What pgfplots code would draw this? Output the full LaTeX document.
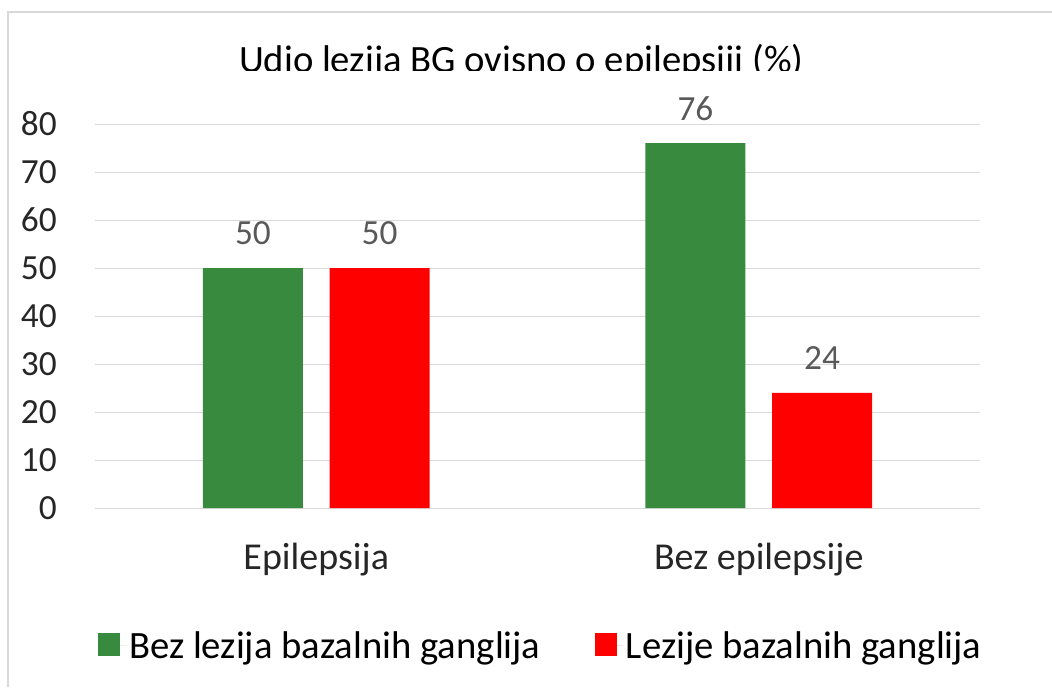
\documentclass[border=0pt]{standalone}
\usepackage{fontspec}
\setmainfont{Carlito}
\usepackage{pgfplots}
\pgfplotsset{compat=1.18}

\definecolor{barGreen}{RGB}{55,138,62}
\definecolor{barRed}{RGB}{255,0,0}
\definecolor{gridGray}{RGB}{217,217,217}
\definecolor{labelGray}{RGB}{89,89,89}
\definecolor{tickText}{RGB}{38,38,38}

\begin{document}
\begin{tikzpicture}
\useasboundingbox (0,0) rectangle (789pt,515.25pt);
% frame of the chart area (only left and top edges show)
\draw[gridGray, line width=1.5pt] (6pt,0) -- (6pt,506.25pt) -- (789pt,506.25pt);
% title, cut off at the bottom like in the source
\begin{scope}
\clip (0,462pt) rectangle (789pt,505pt);
\node[anchor=base, font=\fontsize{29}{34}\selectfont, inner sep=0pt] at (391pt,461pt)
  {Udio lezija BG ovisno o epilepsiji (\%)};
\end{scope}

\begin{axis}[
  at={(71.25pt,134.25pt)}, anchor=south west,
  scale only axis, width=663.75pt, height=288pt,
  ybar=20pt, bar width=75pt,
  xmin=-0.5, xmax=1.5, ymin=0, ymax=80,
  xtick=data, xticklabels={Epilepsija, Bez epilepsije},
  ytick={0,10,...,80},
  ymajorgrids, grid style={gridGray, line width=0.75pt},
  axis line style={draw=none}, major tick length=0pt,
  /pgf/number format/assume math mode=true,
  yticklabel style={font=\fontsize{26.5}{30}\selectfont, text=tickText, inner sep=0pt, anchor=east, xshift=-28.5pt},
  xticklabel style={font=\fontsize{28.5}{32}\selectfont, text=tickText, inner sep=0pt, anchor=north, yshift=-26pt},
  nodes near coords,
  every node near coord/.append style={font=\fontsize{26.5}{30}\selectfont, text=labelGray, inner sep=0pt, anchor=south, yshift=17pt},
  legend columns=2,
  legend style={at={(0.504,-0.359)}, anchor=center, draw=none, fill=none,
    font=\fontsize{29}{34}\selectfont, text=black,
    /tikz/every even column/.append style={column sep=38.5pt}},
  legend image code/.code={\fill[#1] (0pt,-7.5pt) rectangle (17pt,9.5pt); \path (0pt,0pt) -- (21.5pt,0pt);},
]
\addplot[fill=barGreen, draw=none] coordinates {(0,50) (1,76)};
\addplot[fill=barRed, draw=none] coordinates {(0,50) (1,24)};
\legend{Bez lezija bazalnih ganglija, Lezije bazalnih ganglija}
\end{axis}
\end{tikzpicture}
\end{document}
